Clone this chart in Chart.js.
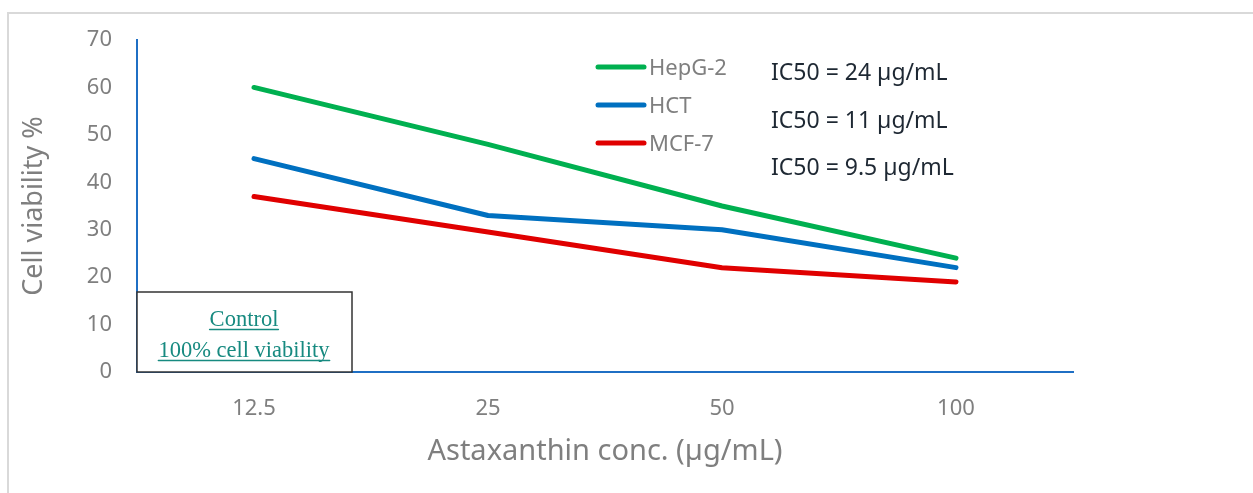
<!DOCTYPE html>
<html>
<head>
<meta charset="utf-8">
<script src="https://cdn.jsdelivr.net/npm/chart.js@4"></script>
<style>
  body { margin: 0; background: #fff; }
  canvas { display: block; }
</style>
</head>
<body>
<canvas id="viabilityChart" width="1253" height="493"></canvas>
<script>
// Chart data
const concentrations = ['12.5', '25', '50', '100'];
const hepg2Values = [60, 48, 35, 24];
const hctValues = [45, 33, 30, 22];
const mcf7Values = [37, 29.5, 22, 19];
const yTicks = [0, 10, 20, 30, 40, 50, 60, 70];
const ic50Labels = ['IC50 = 24 µg/mL', 'IC50 = 11 µg/mL', 'IC50 = 9.5 µg/mL'];
const controlLines = ['Control', '100% cell viability'];

Chart.defaults.font.family = "'Noto Sans', sans-serif";

const axisBlue = '#1f6fc4';
const greyText = '#7f7f7f';

// Outer frame, legend, IC50 notes and the control box
const extrasPlugin = {
    id: 'extras',
    beforeDraw(chart) {
        const ctx = chart.ctx;
        ctx.save();
        ctx.strokeStyle = '#d9d9d9';
        ctx.lineWidth = 2;
        ctx.strokeRect(8, 13, 1400, 700);
        ctx.restore();
    },
    afterDraw(chart) {
        const ctx = chart.ctx;
        const area = chart.chartArea;
        ctx.save();

        // legend
        chart.data.datasets.forEach((ds, i) => {
            const y = 67 + i * 38;
            ctx.strokeStyle = ds.borderColor;
            ctx.lineWidth = 5;
            ctx.lineCap = 'round';
            ctx.beginPath();
            ctx.moveTo(598, y);
            ctx.lineTo(644, y);
            ctx.stroke();
            ctx.fillStyle = greyText;
            ctx.font = "22px 'Noto Sans'";
            ctx.textBaseline = 'alphabetic';
            ctx.textAlign = 'left';
            ctx.fillText(ds.label, 649, y + 7.5);
        });

        // IC50 notes
        ctx.fillStyle = '#1e2833';
        ctx.font = "23px 'Noto Sans'";
        ic50Labels.forEach((t, i) => {
            ctx.fillText(t, 771, 80 + i * 47.5);
        });

        // control box
        const bx = area.left, bw = 215, bh = 80, by = area.bottom - bh;
        ctx.fillStyle = '#fff';
        ctx.fillRect(bx, by, bw, bh);
        ctx.strokeStyle = '#333';
        ctx.lineWidth = 1.5;
        ctx.strokeRect(bx, by, bw, bh);

        ctx.font = "22.5px 'Liberation Serif'";
        ctx.fillStyle = '#178a80';
        ctx.strokeStyle = '#178a80';
        ctx.textAlign = 'center';
        ctx.lineWidth = 1.5;
        controlLines.forEach((t, i) => {
            const cx = bx + 107;
            const base = by + 34 + i * 31;
            ctx.fillText(t, cx, base);
            const w = ctx.measureText(t).width;
            ctx.beginPath();
            ctx.moveTo(cx - w / 2, base + 3.5);
            ctx.lineTo(cx + w / 2, base + 3.5);
            ctx.stroke();
        });
        ctx.restore();
    }
};

new Chart(document.getElementById('viabilityChart'), {
    type: 'line',
    data: {
        labels: concentrations,
        datasets: [
            { label: 'HepG-2', data: hepg2Values, borderColor: '#00b050' },
            { label: 'HCT', data: hctValues, borderColor: '#0070c0' },
            { label: 'MCF-7', data: mcf7Values, borderColor: '#e00000' }
        ].map(ds => Object.assign(ds, {
            borderWidth: 5,
            borderCapStyle: 'round',
            borderJoinStyle: 'round',
            pointRadius: 0,
            tension: 0,
            fill: false
        }))
    },
    options: {
        responsive: false,
        animation: false,
        layout: { padding: { top: 40, right: 180, left: 0, bottom: 0 } },
        plugins: {
            legend: { display: false },
            tooltip: { enabled: false }
        },
        scales: {
            x: {
                offset: true,
                grid: { display: false, drawTicks: false },
                border: { display: true, color: axisBlue, width: 2 },
                ticks: { color: greyText, font: { size: 22 }, padding: 24 },
                title: {
                    display: true,
                    text: 'Astaxanthin conc. (µg/mL)',
                    color: greyText,
                    font: { size: 29 },
                    padding: { top: 0, bottom: 24 }
                },
                afterFit(scale) { scale.height = 121; }
            },
            y: {
                min: 0,
                max: 70,
                afterBuildTicks(scale) { scale.ticks = yTicks.map(v => ({ value: v })); },
                grid: { display: false, drawTicks: false },
                border: { display: true, color: axisBlue, width: 2 },
                ticks: { color: greyText, font: { size: 22 }, padding: 25 },
                title: {
                    display: true,
                    text: 'Cell viability %',
                    color: greyText,
                    font: { size: 27 },
                    padding: { top: 18, bottom: 0 }
                },
                afterFit(scale) { scale.width = 137; }
            }
        }
    },
    plugins: [extrasPlugin]
});
</script>
</body>
</html>
